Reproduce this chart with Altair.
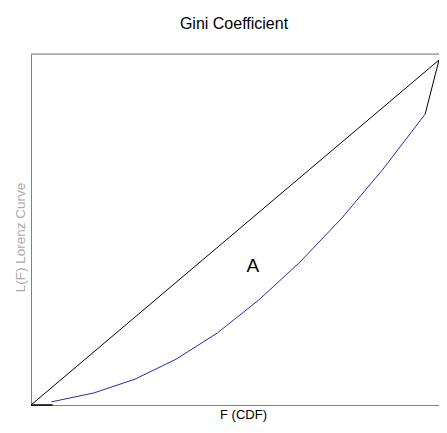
import altair as alt
import pandas as pd

# Equality (diagonal) line
diag_x = [0.0, 1.0]
diag_y = [0.0, 1.0]

# Lorenz curve (blue part)
lorenz_x = [0.050, 0.154, 0.255, 0.356, 0.457, 0.558, 0.659, 0.762, 0.863, 0.966]
lorenz_y = [0.009, 0.035, 0.075, 0.133, 0.209, 0.304, 0.414, 0.542, 0.684, 0.843]

# black end pieces of the curve
start_x = [0.0, 0.053]
start_y = [0.0, 0.0]
end_x = [0.966, 1.0]
end_y = [0.843, 1.0]

label_x = [0.544]
label_y = [0.403]
label_text = ["A"]

FONT = "Liberation Sans"
W = 408
H = 351

x_enc = alt.X("x:Q", scale=alt.Scale(domain=[0, 1], nice=False, zero=False),
              axis=alt.Axis(title="F (CDF)", ticks=False, labels=False, domain=True, grid=False,
                            domainColor="#808080", domainWidth=1,
                            titleFont=FONT, titleFontSize=13, titleFontWeight="normal",
                            titleColor="#000000", titlePadding=3, titleX=212))
y_enc = alt.Y("y:Q", scale=alt.Scale(domain=[0, 1.0174], nice=False, zero=False),
              axis=alt.Axis(title="L(F) Lorenz Curve", ticks=False, labels=False, domain=True, grid=False,
                            domainColor="#808080", domainWidth=1,
                            titleFont=FONT, titleFontSize=13.5, titleFontWeight="normal",
                            titleColor="#a8a8a8", titleX=-4, titleY=183, titleBaseline="bottom"))

top_border = alt.Chart(pd.DataFrame({"x": [0]})).mark_rule(
    color="#808080", strokeWidth=1).encode(x=alt.value(0), x2=alt.value(W + 10), y=alt.value(0))

diag = alt.Chart(pd.DataFrame({"x": diag_x, "y": diag_y})).mark_line(
    color="#000000", strokeWidth=1).encode(x=x_enc, y=y_enc)
curve = alt.Chart(pd.DataFrame({"x": lorenz_x, "y": lorenz_y})).mark_line(
    color="#2b2ba6", strokeWidth=1).encode(x=x_enc, y=y_enc)
start = alt.Chart(pd.DataFrame({"x": start_x, "y": start_y})).mark_line(
    color="#000000", strokeWidth=1.5).encode(x=x_enc, y=y_enc)
end = alt.Chart(pd.DataFrame({"x": end_x, "y": end_y})).mark_line(
    color="#000000", strokeWidth=1).encode(x=x_enc, y=y_enc)
label = alt.Chart(pd.DataFrame({"x": label_x, "y": label_y, "t": label_text})).mark_text(
    font=FONT, fontSize=19, color="#000000", baseline="middle", align="center").encode(
    x=x_enc, y=y_enc, text="t:N")

chart = alt.layer(diag, curve, start, end, label, top_border).properties(
    width=W, height=H,
    title=alt.TitleParams("Gini Coefficient", font=FONT, fontSize=16, fontWeight="normal",
                          color="#000000", anchor="middle", frame="group", dx=-1,
                          offset=9, baseline="alphabetic"),
    padding={"left": 23, "top": 46, "right": 0, "bottom": 19},
    autosize=alt.AutoSizeParams(type="none"),
).configure_view(stroke=None).configure(background="#ffffff")

chart.save("out.html", embed_options={"renderer": "svg", "actions": False})
